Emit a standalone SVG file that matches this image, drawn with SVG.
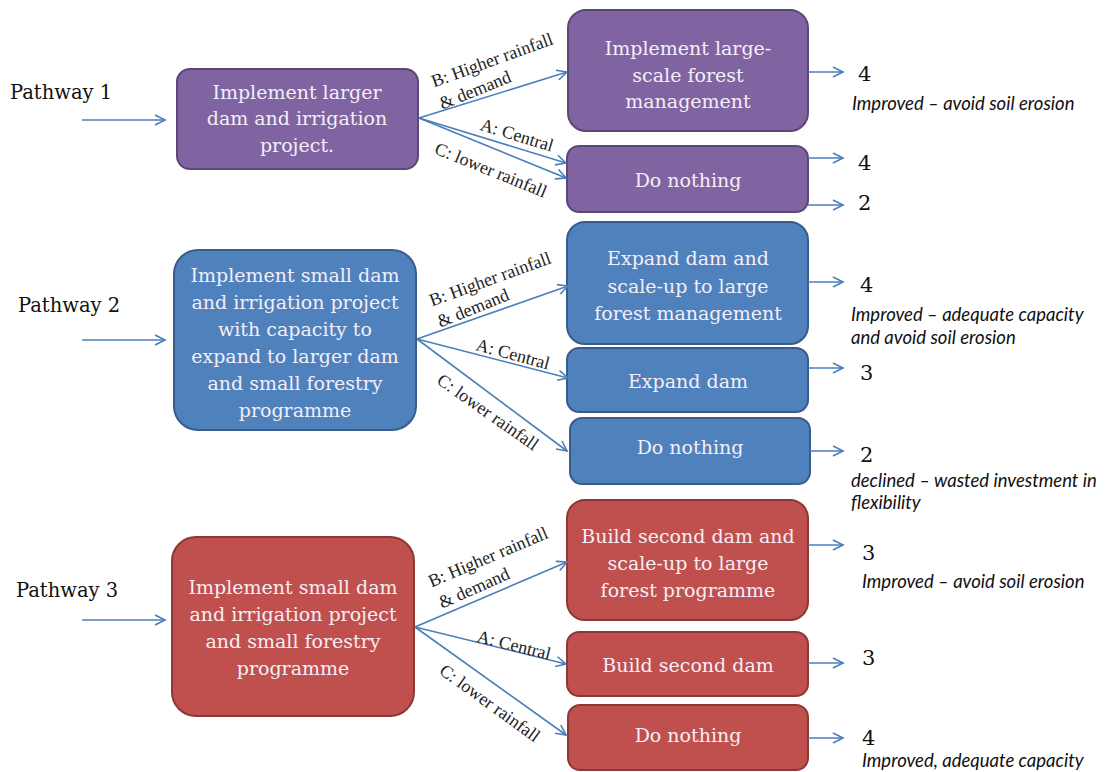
<svg xmlns="http://www.w3.org/2000/svg" width="1108" height="772" viewBox="0 0 1108 772">
<defs>
<marker id="arr" markerWidth="14" markerHeight="14" refX="11" refY="6" orient="auto" markerUnits="userSpaceOnUse">
<path d="M1,1 L11,6 L1,11" fill="none" stroke="#4a7ebb" stroke-width="1.6"/>
</marker>
<style>
.p{fill:#8064a2;stroke:#5c4776;stroke-width:2}
.b{fill:#4f81bd;stroke:#385d8a;stroke-width:2}
.r{fill:#c0504d;stroke:#8c3836;stroke-width:2}
.t{font-family:"DejaVu Serif","Liberation Serif",serif;font-size:19px;fill:#f4eef6;text-anchor:middle}
.lab{font-family:"DejaVu Serif","Liberation Serif",serif;font-size:19.5px;fill:#111}
.num{font-family:"DejaVu Serif","Liberation Serif",serif;font-size:21px;fill:#111}
.cl{font-family:"Liberation Serif","DejaVu Serif",serif;font-size:18px;fill:#222;text-anchor:middle;dominant-baseline:central}
.note{font-family:Lato,"Open Sans",sans-serif;font-style:italic;font-size:18.5px;fill:#111}
.c{stroke:#4a7ebb;stroke-width:1.6;fill:none;marker-end:url(#arr)}
</style>
</defs>
<rect width="1108" height="772" fill="#fff"/>

<g id="labels">
<text class="lab" x="10" y="99">Pathway 1</text>
<text class="lab" x="18" y="312">Pathway 2</text>
<text class="lab" x="16" y="597">Pathway 3</text>
</g>

<g id="p1-src"><rect class="p" x="177" y="69" width="241" height="100" rx="13"/>
<text class="t" x="297" y="99">Implement larger</text>
<text class="t" x="297" y="125">dam and irrigation</text>
<text class="t" x="297" y="152">project.</text></g>
<g id="p1-b"><rect class="p" x="568" y="10" width="240" height="121" rx="18"/>
<text class="t" x="688" y="55">Implement large-</text>
<text class="t" x="688" y="82">scale forest</text>
<text class="t" x="688" y="108">management</text></g>
<g id="p1-ac"><rect class="p" x="567" y="146" width="241" height="66" rx="12"/>
<text class="t" x="688" y="187">Do nothing</text></g>

<g id="p2-src"><rect class="b" x="174" y="250" width="242" height="180" rx="24"/>
<text class="t" x="295" y="282">Implement small dam</text>
<text class="t" x="295" y="309">and irrigation project</text>
<text class="t" x="295" y="336">with capacity to</text>
<text class="t" x="295" y="363">expand to larger dam</text>
<text class="t" x="295" y="390">and small forestry</text>
<text class="t" x="295" y="417">programme</text></g>
<g id="p2-b"><rect class="b" x="567" y="222" width="241" height="122" rx="18"/>
<text class="t" x="688" y="265">Expand dam and</text>
<text class="t" x="688" y="293">scale-up to large</text>
<text class="t" x="688" y="320">forest management</text></g>
<g id="p2-a"><rect class="b" x="567" y="348" width="241" height="64" rx="12"/>
<text class="t" x="688" y="388">Expand dam</text></g>
<g id="p2-c"><rect class="b" x="570" y="418" width="240" height="66" rx="12"/>
<text class="t" x="690" y="454">Do nothing</text></g>

<g id="p3-src"><rect class="r" x="172" y="537" width="242" height="179" rx="24"/>
<text class="t" x="293" y="594">Implement small dam</text>
<text class="t" x="293" y="621">and irrigation project</text>
<text class="t" x="293" y="648">and small forestry</text>
<text class="t" x="293" y="675">programme</text></g>
<g id="p3-b"><rect class="r" x="567" y="500" width="241" height="120" rx="18"/>
<text class="t" x="688" y="543">Build second dam and</text>
<text class="t" x="688" y="570">scale-up to large</text>
<text class="t" x="688" y="597">forest programme</text></g>
<g id="p3-a"><rect class="r" x="567" y="632" width="241" height="64" rx="12"/>
<text class="t" x="688" y="672">Build second dam</text></g>
<g id="p3-c"><rect class="r" x="568" y="705" width="240" height="65" rx="12"/>
<text class="t" x="688" y="742">Do nothing</text></g>

<g id="connectors">
<line class="c" x1="82" y1="120" x2="165" y2="120"/>
<line class="c" x1="82" y1="340" x2="165" y2="340"/>
<line class="c" x1="82" y1="620" x2="165" y2="620"/>
<line class="c" x1="419" y1="118" x2="567" y2="72"/>
<line class="c" x1="419" y1="118" x2="566" y2="163"/>
<line class="c" x1="419" y1="118" x2="566" y2="178"/>
<line class="c" x1="417" y1="339" x2="568" y2="286"/>
<line class="c" x1="417" y1="339" x2="568" y2="378"/>
<line class="c" x1="417" y1="339" x2="567" y2="451"/>
<line class="c" x1="415" y1="627" x2="567" y2="562"/>
<line class="c" x1="415" y1="627" x2="566" y2="664"/>
<line class="c" x1="415" y1="627" x2="566" y2="735"/>
<line class="c" x1="808" y1="72" x2="843" y2="72"/>
<line class="c" x1="808" y1="158" x2="843" y2="158"/>
<line class="c" x1="808" y1="205" x2="843" y2="205"/>
<line class="c" x1="808" y1="282" x2="843" y2="282"/>
<line class="c" x1="808" y1="368" x2="843" y2="368"/>
<line class="c" x1="810" y1="451" x2="843" y2="451"/>
<line class="c" x1="808" y1="545" x2="843" y2="545"/>
<line class="c" x1="808" y1="663" x2="843" y2="663"/>
<line class="c" x1="808" y1="738" x2="843" y2="738"/>
</g>

<g id="connector-labels">
<text class="cl" transform="translate(492,60) rotate(-20)">B: Higher rainfall</text>
<text class="cl" transform="translate(475,90) rotate(-22)">&amp; demand</text>
<text class="cl" transform="translate(517,135) rotate(17)">A: Central</text>
<text class="cl" transform="translate(491,170) rotate(22)">C: lower rainfall</text>
<text class="cl" transform="translate(490,279) rotate(-20)">B: Higher rainfall</text>
<text class="cl" transform="translate(473,308) rotate(-22)">&amp; demand</text>
<text class="cl" transform="translate(513,354) rotate(15)">A: Central</text>
<text class="cl" transform="translate(488,412) rotate(35)">C: lower rainfall</text>
<text class="cl" transform="translate(488,557) rotate(-23)">B: Higher rainfall</text>
<text class="cl" transform="translate(474,588) rotate(-24)">&amp; demand</text>
<text class="cl" transform="translate(514,645) rotate(14)">A: Central</text>
<text class="cl" transform="translate(490,703) rotate(36)">C: lower rainfall</text>
</g>

<g id="outcomes">
<text class="num" x="858" y="81">4</text>
<text class="note" x="852" y="110">Improved – avoid soil erosion</text>
<text class="num" x="858" y="170">4</text>
<text class="num" x="858" y="210">2</text>
<text class="num" x="860" y="292">4</text>
<text class="note" x="851" y="321">Improved – adequate capacity</text>
<text class="note" x="851" y="344">and avoid soil erosion</text>
<text class="num" x="860" y="380">3</text>
<text class="num" x="860" y="462">2</text>
<text class="note" x="851" y="487">declined – wasted investment in</text>
<text class="note" x="851" y="509">flexibility</text>
<text class="num" x="862" y="560">3</text>
<text class="note" x="862" y="588">Improved – avoid soil erosion</text>
<text class="num" x="862" y="665">3</text>
<text class="num" x="862" y="745">4</text>
<text class="note" x="862" y="767">Improved, adequate capacity</text>
</g>
</svg>
